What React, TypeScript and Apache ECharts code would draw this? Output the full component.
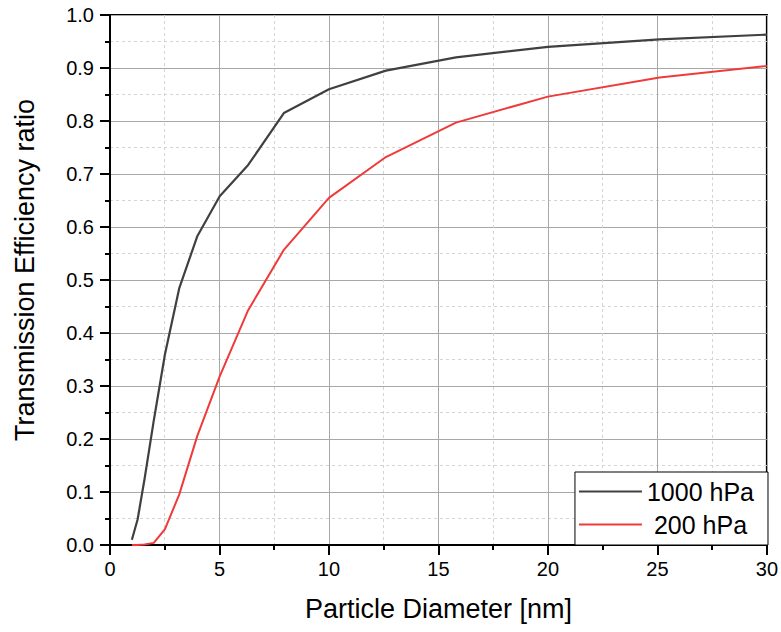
import React, { useEffect, useRef } from "react";
import * as echarts from "echarts";

const diameters = [1, 1.26, 1.58, 2, 2.51, 3.16, 3.98, 5.01, 6.31, 7.94, 10, 12.6, 15.8, 20, 25.1, 30];
const eff1000 = [0.01, 0.048, 0.125, 0.235, 0.36, 0.484, 0.582, 0.658, 0.717, 0.815, 0.86, 0.895, 0.92, 0.94, 0.954, 0.963];
const eff200 = [0, 0, 0.001, 0.004, 0.03, 0.095, 0.205, 0.318, 0.443, 0.557, 0.655, 0.732, 0.797, 0.846, 0.882, 0.904];
const seriesNames = ["1000 hPa", "200 hPa"];
const seriesColors = ["#404040", "#f03a3a"];
const xTitle = "Particle Diameter [nm]";
const yTitle = "Transmission Efficiency ratio";

const FONT = "'Liberation Sans', Arial, sans-serif";

export default function App() {
  const ref = useRef<HTMLDivElement>(null);
  useEffect(() => {
    if (!ref.current) return;
    const chart = echarts.init(ref.current, undefined, { renderer: "svg" });
    const pair = (ys: number[]) => diameters.map((x, i) => [x, ys[i]]);
    chart.setOption({
      animation: false,
      backgroundColor: "#fff",
      textStyle: { fontFamily: FONT },
      grid: {
        left: 110,
        right: 13,
        top: 15,
        bottom: 87,
        show: true,
        borderColor: "#000",
        borderWidth: 2,
        backgroundColor: "transparent",
      },
      legend: {
        orient: "vertical",
        right: 13,
        bottom: 87,
        align: "left",
        padding: [7, 14, 8, 4],
        itemGap: 8,
        itemWidth: 63,
        itemHeight: 2,
        icon: "rect",
        backgroundColor: "#fff",
        borderColor: "#000",
        borderWidth: 1,
        borderRadius: 0,
        formatter: (name: string) => (name === "200 hPa" ? "\u00a0" + name : name),
        textStyle: { fontSize: 25, lineHeight: 25, color: "#000", fontFamily: FONT },
        data: seriesNames.map((n, i) => ({ name: n, icon: "rect", itemStyle: { color: seriesColors[i] } })),
      },
      xAxis: {
        type: "value",
        min: 0,
        max: 30,
        interval: 5,
        name: xTitle,
        nameLocation: "middle",
        nameGap: 50,
        nameTextStyle: { fontSize: 27, color: "#000", fontFamily: FONT },
        axisLine: { show: true, onZero: false, lineStyle: { color: "#000", width: 2 } },
        axisTick: { show: true, inside: false, length: 10, lineStyle: { color: "#000", width: 2 } },
        minorTick: { show: true, splitNumber: 2, length: 5, lineStyle: { color: "#000", width: 2 } },
        axisLabel: { fontSize: 20, color: "#000", margin: 14, fontFamily: FONT },
        splitLine: { show: true, lineStyle: { color: "#a8a8a8", width: 1 } },
        minorSplitLine: { show: true, lineStyle: { color: "#d4d4d4", width: 1, type: [3, 3] } },
      },
      yAxis: {
        type: "value",
        min: 0,
        max: 1,
        interval: 0.1,
        name: yTitle,
        nameLocation: "middle",
        nameGap: 72,
        nameRotate: 90,
        nameTextStyle: { fontSize: 27, color: "#000", fontFamily: FONT, padding: [0, 0, 0, 20] },
        axisLine: { show: true, onZero: false, lineStyle: { color: "#000", width: 2 } },
        axisTick: { show: true, inside: false, length: 10, lineStyle: { color: "#000", width: 2 } },
        minorTick: { show: true, splitNumber: 2, length: 5, lineStyle: { color: "#000", width: 2 } },
        axisLabel: {
          fontSize: 20,
          color: "#000",
          margin: 16,
          fontFamily: FONT,
          formatter: (v: number) => v.toFixed(1),
        },
        splitLine: { show: true, lineStyle: { color: "#a8a8a8", width: 1 } },
        minorSplitLine: { show: true, lineStyle: { color: "#d4d4d4", width: 1, type: [3, 3] } },
      },
      series: [
        {
          name: seriesNames[0],
          type: "line",
          data: pair(eff1000),
          symbol: "none",
          lineStyle: { color: seriesColors[0], width: 2.2 },
          itemStyle: { color: seriesColors[0] },
          clip: true,
        },
        {
          name: seriesNames[1],
          type: "line",
          data: pair(eff200),
          symbol: "none",
          lineStyle: { color: seriesColors[1], width: 2 },
          itemStyle: { color: seriesColors[1] },
          clip: true,
        },
      ],
    });
    return () => chart.dispose();
  }, []);
  return (
    <div
      ref={ref}
      style={{ position: "absolute", left: 0, top: 0, width: 781, height: 632 }}
    />
  );
}
